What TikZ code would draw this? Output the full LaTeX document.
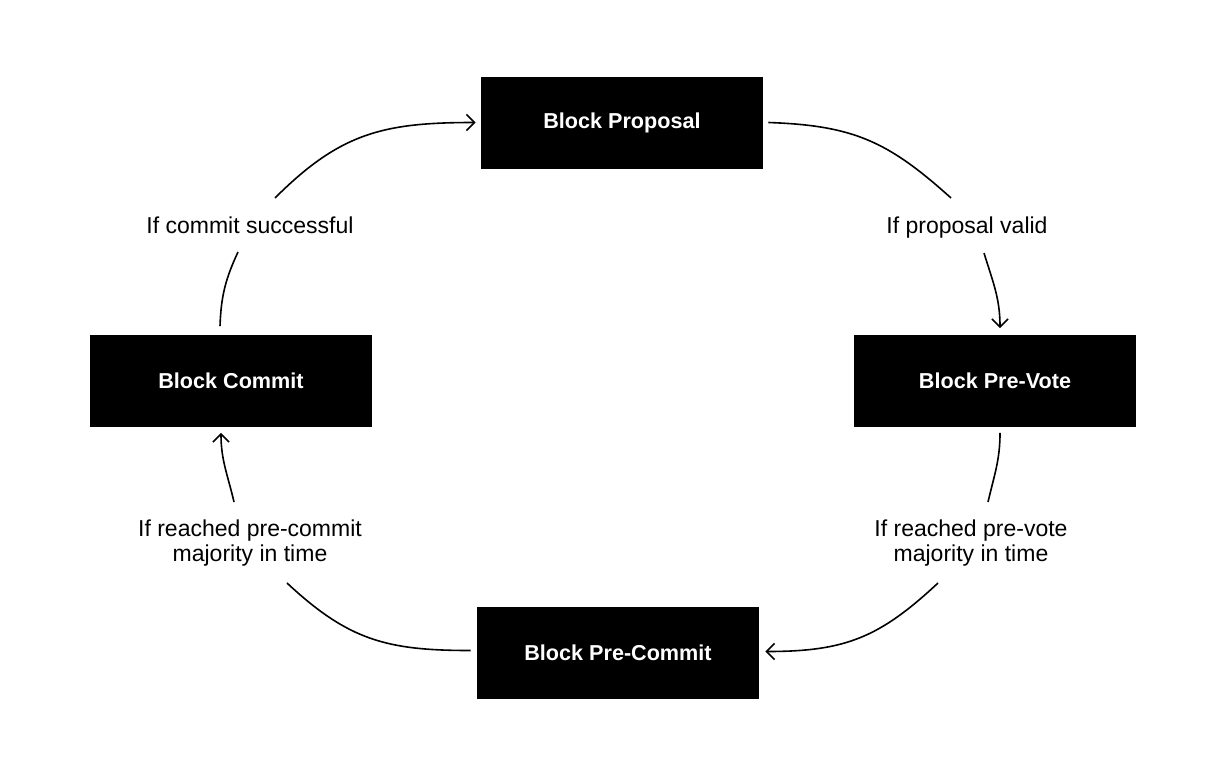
\documentclass[tikz,border=0pt]{standalone}
\usepackage{fontspec}
\setmainfont{Liberation Sans}
\usetikzlibrary{arrows.meta}

\begin{document}
\begin{tikzpicture}[x=0.5pt,y=0.5pt,
  stage/.style={fill=black, text=white, minimum width=141pt, minimum height=46pt, inner sep=0pt, font=\fontsize{10.8}{13}\selectfont\bfseries},
  cond/.style={align=center, inner sep=0pt, font=\fontsize{11.5}{12.5}\selectfont},
  link/.style={line width=0.8pt},
  flow/.style={link, -{Straight Barb[length=4pt,width=8pt]}}]
\useasboundingbox (0,0) rectangle (1224,768);
\node[stage] (prop) at (622,645.5){Block Proposal};
\node[stage] (vote) at (995,387.5){Block Pre-Vote};
\node[stage] (pcm) at (618,115.5){Block Pre-Commit};
\node[stage] (cmt) at (231,387.5){Block Commit};
\node[cond] (lbl1) at (250,543){If commit successful};
\node[cond] (lbl2) at (967,540){If proposal valid};
\node[cond] (lbl4) at (971,225){If reached pre-vote\\majority in time};
\node[cond] (lbl3) at (250,225){If reached pre-commit\\majority in time};
\draw[link] ([shift={(-11,8)}]cmt.north) to[out=88,in=-115] ([shift={(-12,-27)}]lbl1.center);
\draw[flow] ([shift={(25,27)}]lbl1.center) to[out=45,in=180,looseness=1.1] ([shift={(-5,0)}]prop.west);
\draw[link] ([shift={(5,0)}]prop.east) to[out=-2,in=138,looseness=1.1] ([shift={(-16,30)}]lbl2.center);
\draw[flow] ([shift={(17,-25)}]lbl2.center) to[out=-73,in=90] ([shift={(5,6)}]vote.north);
\draw[link] ([shift={(5,-6)}]vote.south) to[out=-90,in=77] ([shift={(17,41)}]lbl4.center);
\draw[flow] ([shift={(-33,-40)}]lbl4.center) to[out=-137,in=0,looseness=1.1] ([shift={(6,1)}]pcm.east);
\draw[link] ([shift={(-6,2)}]pcm.west) to[out=180,in=-43,looseness=1.1] ([shift={(37,-40)}]lbl3.center);
\draw[flow] ([shift={(-16,41)}]lbl3.center) to[out=103,in=-90] ([shift={(-10,-6)}]cmt.south);
\end{tikzpicture}
\end{document}
